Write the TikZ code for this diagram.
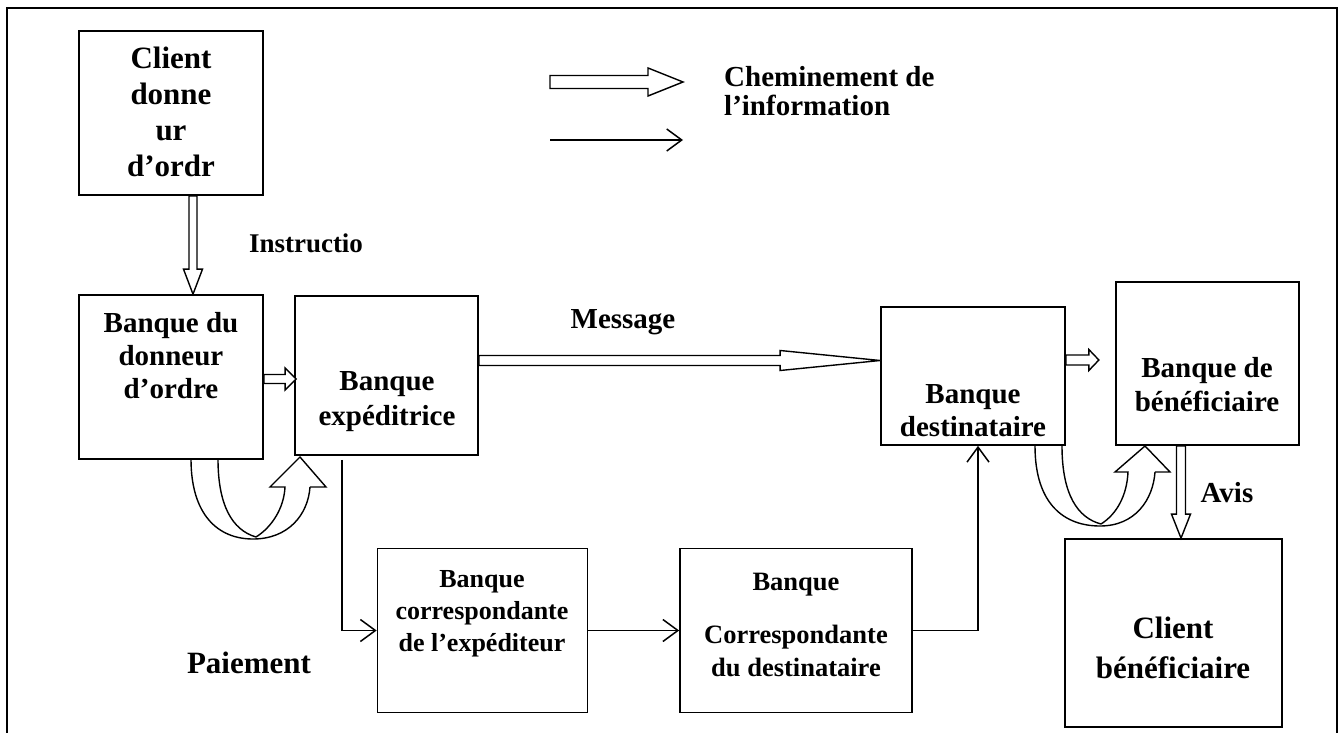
\documentclass[tikz,border=0pt]{standalone}
\usepackage{fontspec}
\setmainfont{Liberation Serif}
\usetikzlibrary{arrows.meta,calc}
\newcommand\hollowH[5]{\draw[hollow] let \p1=(#1), \p2=(#2) in
 (\x1,\y1+#3) -- (\x2-#5,\y1+#3) -- (\x2-#5,\y1+#4) -- (\x2,\y1) -- (\x2-#5,\y1-#4) -- (\x2-#5,\y1-#3) -- (\x1,\y1-#3) -- cycle;}
\newcommand\hollowV[5]{\draw[hollow] let \p1=(#1), \p2=(#2) in
 (\x1-#3,\y1) -- (\x1-#3,\y2+#5) -- (\x1-#4,\y2+#5) -- (\x1,\y2) -- (\x1+#4,\y2+#5) -- (\x1+#3,\y2+#5) -- (\x1+#3,\y1) -- cycle;}
\begin{document}
\begin{tikzpicture}[x=1pt,y=-1pt,
  box/.style={draw, line width=1.7pt, inner sep=0pt},
  txt/.style={font=\bfseries\fontsize{29}{33}\selectfont, align=center, inner sep=0pt},
  hollow/.style={draw, fill=white, line width=1.4pt, line join=miter},
  flow/.style={draw, line width=1.5pt, -{Straight Barb[length=15pt,width=22pt,line width=1.5pt]}},
  curv/.style={draw, line width=1.4pt, line join=miter}]
\useasboundingbox (0,0) rectangle (1341,733);
\draw[line width=2.4pt] (7,745) -- (7,8) -- (1337,8) -- (1337,745);

% boxes
\node[box, minimum width=184pt, minimum height=164pt] (cd) at (171,113) {};
\node[box, minimum width=184pt, minimum height=164pt] (bd) at (171,377) {};
\node[box, minimum width=183pt, minimum height=159pt] (exp) at (386.5,375.5) {};
\node[box, minimum width=184pt, minimum height=138pt] (dest) at (973,376) {};
\node[box, minimum width=183pt, minimum height=163pt] (benef) at (1207.5,363.5) {};
\node[box, minimum width=217pt, minimum height=188pt] (cb) at (1173.5,633) {};
\node[box, minimum width=210pt, minimum height=164pt] (ce) at (482.5,630.5) {};
\node[box, minimum width=232pt, minimum height=164pt] (cde) at (796,630.5) {};

% box texts
\node[txt, font=\bfseries\fontsize{31}{36}\selectfont] (cdt) at (171,112) {Client\\donne\\ur\\d’ordr};
\node[txt] (bdt) at (171,356) {Banque du\\donneur\\d’ordre};
\node[txt, font=\bfseries\fontsize{29}{35}\selectfont] (expt) at (387,402) {Banque\\expéditrice};
\node[txt] (destt) at (973,411) {Banque\\destinataire};
\node[txt, font=\bfseries\fontsize{29}{34}\selectfont] (beneft) at (1207,385) {Banque de\\bénéficiaire};
\node[txt, font=\bfseries\fontsize{31}{40}\selectfont] (cbt) at (1173,648) {Client\\bénéficiaire};
\node[txt, font=\bfseries\fontsize{26}{32}\selectfont] (cet) at (482,614) {Banque\\correspondante\\de l’expéditeur};
\node[txt, font=\bfseries\fontsize{26.5}{33}\selectfont] (cdet) at (796,625) {Banque\\[20pt]Correspondante\\du destinataire};

% labels
\node[txt, font=\bfseries\fontsize{27}{30}\selectfont] (instr) at (306,243) {Instructio};
\node[txt] (msg) at (623,322) {Message};
\node[txt, font=\bfseries\fontsize{31}{34}\selectfont] (pai) at (249,663) {Paiement};
\node[txt, font=\bfseries\fontsize{29}{30}\selectfont] (avis) at (1227,493) {Avis};
\node[txt, align=left, anchor=west, font=\bfseries\fontsize{29}{29}\selectfont] (leg) at (724,91) {Cheminement de\\l’information};

% hollow arrows
\coordinate (i1) at ($(cd.south)+(22,0)$);
\coordinate (i2) at ($(bd.north)+(22,0)$);
\hollowV{i1}{i2}{4pt}{9.5pt}{25pt}
\coordinate (d1) at ($(bd.east)+(0,2)$);
\coordinate (d2) at ($(exp.west|-d1)+(2,0)$);
\hollowH{d1}{d2}{4.5pt}{11pt}{11pt}
\coordinate (m1) at ($(exp.east)+(0,-15)$);
\coordinate (m2) at (dest.west|-m1);
\hollowH{m1}{m2}{5pt}{10pt}{100pt}
\coordinate (b1) at ($(dest.east)+(0,-16)$);
\coordinate (b2) at ($(b1)+(33,0)$);
\hollowH{b1}{b2}{5pt}{10.5pt}{10pt}
\coordinate (a1) at (benef.south-|1181,0);
\coordinate (a2) at (cb.north-|a1);
\hollowV{a1}{a2}{4.5pt}{9.5pt}{24pt}
\coordinate (l1) at (550,82);
\coordinate (l2) at (683,82);
\hollowH{l1}{l2}{6.5pt}{14pt}{35pt}

% line arrows
\coordinate (k1) at (550,140);
\coordinate (k2) at (683,140);
\draw[flow] (k1) -- (k2);
\coordinate (s1) at ($(exp.south)+(-44.5,4)$);
\draw[flow] (s1) |- (ce.west);
\draw[flow] (ce.east) -- (cde.west);
\coordinate (t1) at ($(dest.south)+(5,0)$);
\draw[flow] (cde.east) -| (t1);

% curved payment arrows
\draw[curv] (191,459) .. controls (191,515) and (218,539) .. (253,539) .. controls (288,539) and (308,515) .. (310,487);
\draw[curv] (218,459) .. controls (218,505) and (232,530) .. (256,537);
\draw[curv] (256,537) .. controls (272,527) and (284,508) .. (285,487) -- (270,487) -- (300,457) -- (326,487) -- (310,487);
\draw[curv] (1035,446) .. controls (1035,505) and (1065,526) .. (1100,526) .. controls (1135,526) and (1153,500) .. (1155,472);
\draw[curv] (1062,446) .. controls (1062,495) and (1078,518) .. (1101,524);
\draw[curv] (1101,524) .. controls (1117,514) and (1127,495) .. (1128,472) -- (1115,472) -- (1145,446) -- (1170,472) -- (1155,472);
\end{tikzpicture}
\end{document}
